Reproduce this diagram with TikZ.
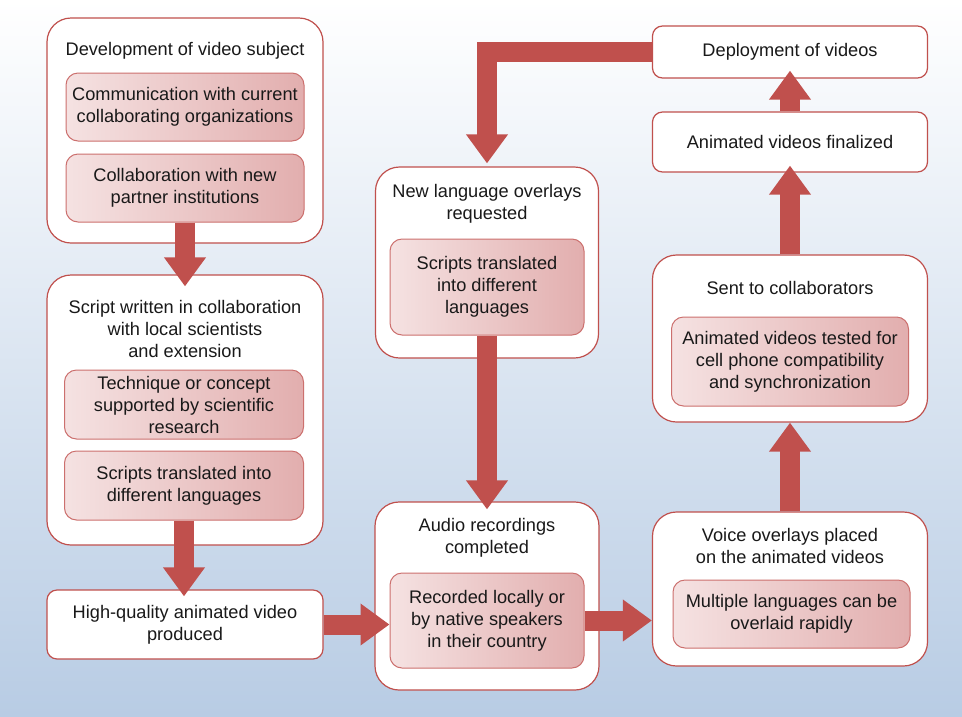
\documentclass[tikz,border=0pt]{standalone}
\usepackage{fontspec}
\setmainfont{Liberation Sans}
\usetikzlibrary{arrows.meta}
\definecolor{boxred}{RGB}{192,80,77}
\definecolor{linered}{RGB}{204,112,110}
\definecolor{pinkL}{RGB}{245,226,226}
\definecolor{pinkR}{RGB}{226,174,174}
\definecolor{bgblue}{RGB}{184,204,228}
\definecolor{txt}{RGB}{25,25,25}
\pgfmathsetmacro{\shaftW}{20}
\tikzset{
	outer/.style= {
		shape=rectangle, draw=boxred, line width=1.2pt,
		fill=white, rounded corners=24pt, inner sep=0
	},
	small/.style={outer, rounded corners=10pt, text=txt, align=center},
	inner/.style= {
		shape=rectangle, draw=linered, line width=1pt,
		left color=pinkL, right color=pinkR,
		rounded corners=12pt, inner sep=0, text=txt, align=center
	},
	title/.style={text=txt, align=center, inner sep=0},
	flow/.style={
		draw=boxred, line width=\shaftW pt,
		-{Triangle[width=40pt,length=29pt]}
	}
}

\begin{document}
\begin{tikzpicture}[x=1pt, y=-1pt, font=\fontsize{18.2}{22}\selectfont]
\useasboundingbox (0,0) rectangle (962,716);
\fill[top color=white, bottom color=bgblue] (0,0) rectangle (962,716);

% left column
\node[outer, minimum width=276, minimum height=225] (dev) at (185,130.5) {};
\node[title] (dev-title) at (185,51) {Development of video subject};
\node[inner, minimum width=238, minimum height=68] (dev1) at (185,107) {Communication with current\\collaborating organizations};
\node[inner, minimum width=238, minimum height=68] (dev2) at (185,188) {Collaboration with new\\partner institutions};

\node[outer, minimum width=276, minimum height=270] (script) at (185,410) {};
\node[title] (script-title) at (185,329) {Script written in collaboration\\with local scientists\\and extension};
\node[inner, minimum width=239, minimum height=69] (script1) at (184,404.5) {Technique or concept\\supported by scientific\\research};
\node[inner, minimum width=239, minimum height=69] (script2) at (184,485.5) {Scripts translated into\\different languages};

\node[small, minimum width=276, minimum height=69] (video) at (185,624.5) {High-quality animated video\\produced};

% middle column
\node[outer, minimum width=223, minimum height=191] (lang) at (487,262.5) {};
\node[title] (lang-title) at (487,204) {New language overlays\\requested};
\node[inner, minimum width=194, minimum height=96] (trans) at (487,287) {Scripts translated\\into different\\languages};

\node[outer, minimum width=224, minimum height=188] (audio) at (487,596) {};
\node[title] (audio-title) at (487,538) {Audio recordings\\completed};
\node[inner, minimum width=194, minimum height=95] (rec) at (487,620.5) {Recorded locally or\\by native speakers\\in their country};

% right column
\node[small, minimum width=275, minimum height=52] (deploy) at (790,52) {Deployment of videos};
\node[small, minimum width=275, minimum height=60] (final) at (790,142) {Animated videos finalized};

\node[outer, minimum width=275, minimum height=167] (sent) at (790,338.5) {};
\node[title] (sent-title) at (790,288) {Sent to collaborators};
\node[inner, minimum width=237, minimum height=89] (test) at (790,361.5) {Animated videos tested for\\cell phone compatibility\\and synchronization};

\node[outer, minimum width=275, minimum height=154] (voice) at (790,589) {};
\node[title] (voice-title) at (790,546) {Voice overlays placed\\on the animated videos};
\node[inner, minimum width=237, minimum height=68] (multi) at (791.5,614) {Multiple languages can be\\overlaid rapidly};

% block arrows
\draw[flow] (dev2.south) -- ([yshift=-12pt]dev2.south |- script.north);
\draw[flow] (script2.south) -- ([yshift=-7pt]script2.south |- video.north);
\draw[flow] (video.east) -- (video.east -| rec.west);
\draw[flow] (rec.east) -- (rec.east -| voice.west);
\draw[flow] (voice.north) -- (voice.north |- sent.south);
\draw[flow] (sent.north) -- ([yshift=7pt]sent.north |- final.south);
\draw[flow] (final.north) -- ([yshift=8pt]final.north |- deploy.south);
\draw[flow] (deploy.west) -| ([yshift=3pt]lang.north);
\draw[flow] (trans.south) -- ([yshift=-8pt]trans.south |- audio.north);
\end{tikzpicture}
\end{document}
